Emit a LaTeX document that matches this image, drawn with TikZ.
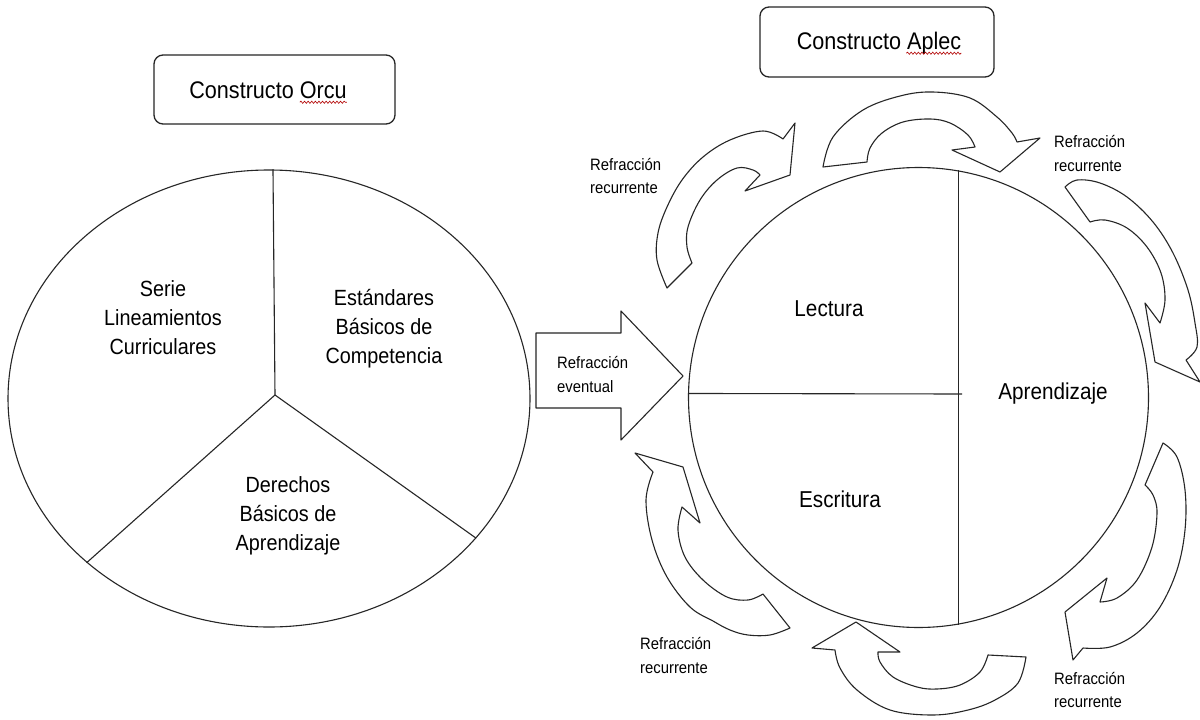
\documentclass[tikz,border=0pt]{standalone}
\usepackage{fontspec}
\setmainfont[FakeStretch=0.9]{Liberation Sans}
\usetikzlibrary{shapes.geometric,calc,decorations.pathmorphing}

\begin{document}
\begin{tikzpicture}[x=1pt,y=-1pt,
  outline/.style={draw=black!85, line width=1.1pt},
  titlebox/.style={draw=black!85, line width=1.3pt, rounded corners=9pt, fill=white},
  bandarrow/.style={draw=black!85, line width=1.1pt, fill=white, line join=round},
  bodytext/.style={font=\fontsize{22}{29}\selectfont, align=center},
  parttext/.style={font=\fontsize{23}{28}\selectfont},
  titletext/.style={font=\fontsize{24}{28}\selectfont, inner sep=0pt},
  smalltext/.style={font=\fontsize{16.5}{23.5}\selectfont, align=left, inner sep=0pt, anchor=west},
  spell/.style={draw=red!70!black, line width=0.6pt, decorate,
    decoration={snake, amplitude=1.1pt, segment length=3.6pt}}
]
\fill[white] (0,0) rectangle (1200,720);
\useasboundingbox (0,0) rectangle (1200,720);

% ---------- left construct ----------
\node[titlebox, minimum width=241pt, minimum height=69pt] (orcubox) at (274.5,89.5) {};
\node[titletext] (orcutitle) at (268,90) {Constructo Orcu};
\draw[spell] ($(orcutitle.base east)+(-47,4)$) -- ($(orcutitle.base east)+(0,4)$);

\node[outline, ellipse, minimum width=522pt, minimum height=457pt, inner sep=0pt] (orcu) at (269,398.5) {};
\coordinate (hub) at (275,395);
\draw[outline] (orcu.89.25) -- (hub) -- (orcu.222.4);
\draw[outline] (hub) -- (orcu.-34.6);

\node[bodytext] (serie) at (163,318) {Serie\\Lineamientos\\Curriculares};
\node[bodytext] (estandares) at (384,329) {Estándares\\Básicos de\\Competencia};
\node[bodytext] (derechos) at (288,516) {Derechos\\Básicos de\\Aprendizaje};

% ---------- eventual refraction ----------
\draw[bandarrow] (536,333) -- (621,333) -- (621,311) -- (683,376) -- (621,440) -- (621,408) -- (536,408) -- cycle;
\node[smalltext] (eventual) at (557,374.5) {Refracción\\eventual};

% ---------- right construct ----------
\node[titlebox, minimum width=234pt, minimum height=70pt] (aplecbox) at (877,42) {};
\node[titletext] (aplectitle) at (879,43) {Constructo Aplec};
\draw[spell] ($(aplectitle.base east)+(-55,4)$) -- ($(aplectitle.base east)+(0,4)$);

\node[outline, circle, minimum size=460pt, inner sep=0pt] (aplec) at (918.5,397.5) {};
\coordinate (hend) at (962,394);
\draw[outline] (aplec.80.37) -- (aplec.-80.37);
\draw[outline] (aplec.179.13) -- (hend);

\node[parttext] (lectura) at (829,309) {Lectura};
\node[parttext] (escritura) at (840,499) {Escritura};
\node[parttext] (aprendizaje) at (1053,394) {Aprendizaje};

% ---------- recurrent refraction arrows (clockwise) ----------
% top
\draw[bandarrow] plot[smooth, tension=0.6] coordinates {(823,167) (833,137) (863,110) (900,96) (933,92) (970,98) (997,117) (1012,133) (1017,142)}
  -- (1040,138) -- (1000,172) -- (952,150)
  -- plot[smooth, tension=0.6] coordinates {(975,147) (968,135) (950,123) (930,119) (903,122) (882,133) (870,148) (867,162)} -- cycle;
% upper right
\draw[bandarrow] plot[smooth, tension=0.6] coordinates {(1065,187) (1077,180) (1100,183) (1127,197) (1153,222) (1173,253) (1188,290) (1195,323) (1197,347) (1186,360)}
  -- (1200,382) -- (1155,362) -- (1145,303)
  -- plot[smooth, tension=0.6] coordinates {(1160,323) (1165,300) (1161,273) (1147,247) (1127,228) (1105,220) (1090,222)} -- cycle;
% lower right
\draw[bandarrow] plot[smooth, tension=0.6] coordinates {(1163,443) (1177,457) (1185,490) (1185,530) (1177,570) (1160,607) (1137,633) (1110,647) (1083,648)}
  -- (1073,660) -- (1065,612) -- (1107,578)
  -- plot[smooth, tension=0.6] coordinates {(1100,602) (1117,598) (1137,580) (1152,547) (1157,513) (1153,495) (1145,485)} -- cycle;
% bottom
\draw[bandarrow] plot[smooth, tension=0.6] coordinates {(1026,657) (1018,683) (995,700) (968,710) (933,715) (890,710) (857,690) (840,668) (835,650)}
  -- (812,648) -- (856,622) -- (900,652)
  -- plot[smooth, tension=0.6] coordinates {(878,652) (880,662) (893,677) (917,687) (937,689) (960,685) (980,672) (988,655)} -- cycle;
% lower left
\draw[bandarrow] plot[smooth, tension=0.6] coordinates {(790,628) (770,635) (748,635) (730,630) (713,621) (690,607) (667,577) (652,540) (646,500) (653,472)}
  -- (635,453) -- (683,467) -- (700,523)
  -- plot[smooth, tension=0.6] coordinates {(682,507) (678,530) (685,557) (703,580) (727,597) (748,600) (763,594)} -- cycle;
% upper left
\draw[bandarrow] plot[smooth, tension=0.6] coordinates {(667,288) (657,260) (658,233) (667,207) (682,180) (703,157) (730,140) (763,131) (783,139)}
  -- (795,123) -- (790,175) -- (745,191)
  -- plot[smooth, tension=0.6] coordinates {(760,175) (753,170) (737,168) (717,180) (700,200) (688,227) (687,247) (692,263)} -- cycle;

\node[smalltext] (lblTL) at (590,176) {Refracción\\recurrente};
\node[smalltext] (lblTR) at (1054,153.5) {Refracción\\recurrente};
\node[smalltext] (lblBL) at (640,655.5) {Refracción\\recurrente};
\node[smalltext] (lblBR) at (1054,690) {Refracción\\recurrente};
\end{tikzpicture}
\end{document}
